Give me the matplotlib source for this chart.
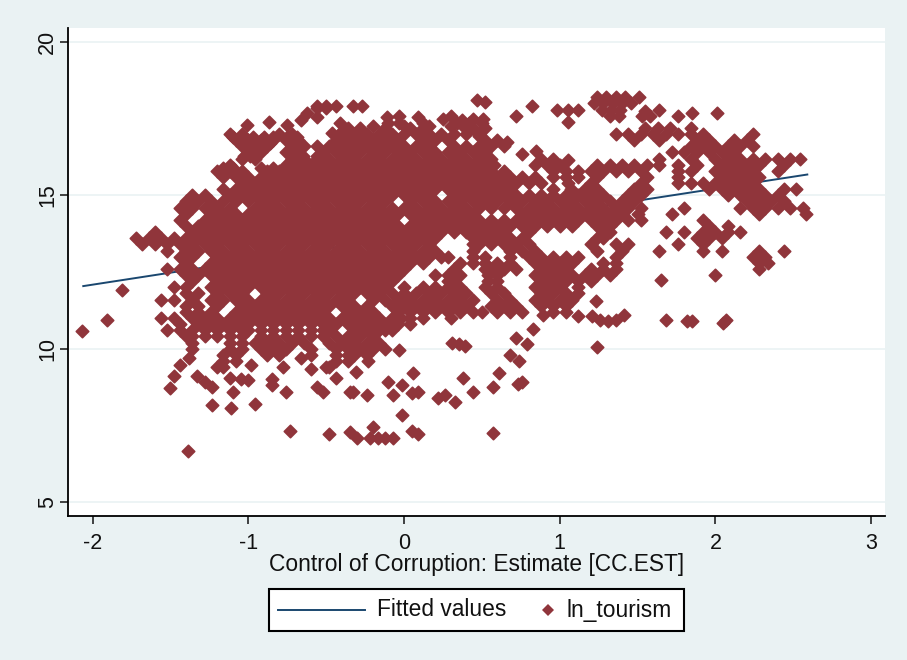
import matplotlib
matplotlib.use('Agg')
import matplotlib.pyplot as plt
from matplotlib.lines import Line2D
from matplotlib.patches import Rectangle

plt.rcParams['font.family'] = ['Liberation Sans', 'DejaVu Sans']
plt.rcParams['axes.unicode_minus'] = False

BG = '#eaf2f3'
MAROON = '#90353b'
NAVY = '#1a476f'

fit_x = [-2.06, 2.59]
fit_y = [12.04, 15.68]

# scattered points, read one by one
x_sparse = [0.47, 0.52, -0.56, -0.5, -0.44, -0.33, -0.27, 0.82, 0.98, 1.05, 1.12, -0.66, -0.56, -0.87, -1.01, -0.75,
            -0.41, -0.11, -0.03, 0.09, 0.25, 0.3, 0.44, 0.51, 0.37, 0.72, 1.05, 0.48, 0.66, 0.76, 0.85, 1.05,
            1.55, 1.64, 1.76, 1.85, 2.01,
            -1.81, -1.91, -2.07, -1.39, -0.73, -0.48, -0.35, -0.3,
            -1.5, -1.48, -1.44, -1.38, -1.33, -1.28, -1.23, -1.23, -1.11, -1.1, -0.96, -1.12, -1.05, -1.0,
            -1.2, -0.98, -0.85, -0.85, -0.78, -0.76, -0.66, -0.6, -0.56, -0.52, -0.35, -0.44, -0.31,
            1.23, 1.12, 1.21, 1.26, 1.31, 1.36, 1.41, 1.24, 0.89, 0.83, 0.72, 0.79, 0.68, 0.74, 0.61, 0.57, 0.73, 0.76,
            0.38, 0.44, 0.33, 0.26, 0.22, 0.57, 0.35, 0.31, 0.39, -0.03, 0.06, -0.23, -0.01, -0.1, -0.01, 0.09, 0.05,
            -0.07, -0.24, -0.33, -0.2, -0.22, -0.17, -0.12, -0.07, 0.05, 0.09,
            1.65, 2.0, 1.68, 1.82, 1.85, 2.07, 2.05,
            -1.1, -1.03, -0.97, -0.9, -0.84, -0.75, -0.69, -1.03, -0.97, -0.9, -0.86, -0.71, -1.03, -0.99, -0.69, -0.65,
            -0.56, -1.16, -1.1, -0.92, -0.84, -0.75, -0.62, -0.56, -0.5, -0.41, -0.46,
            -0.1, -0.03, 0.12, 0.34, 0.42, 0.5, -0.2, 0.0, 0.16, 0.3, 0.38]
y_sparse = [18.1, 18.05, 17.9, 17.9, 17.9, 17.9, 17.9, 17.9, 17.8, 17.8, 17.8, 17.45, 17.55, 17.4, 17.3, 17.3,
            17.35, 17.55, 17.6, 17.55, 17.5, 17.6, 17.5, 17.5, 17.45, 17.6, 17.4, 16.95, 16.75, 16.35, 16.45, 16.15,
            17.75, 17.8, 17.6, 17.7, 17.7,
            11.9, 10.93, 10.57, 6.65, 7.3, 7.2, 7.28, 7.1,
            8.7, 9.1, 9.45, 9.7, 9.1, 8.9, 8.75, 8.15, 8.05, 8.6, 8.2, 9.05, 9.0, 8.98,
            9.4, 9.45, 9.0, 8.8, 9.4, 8.6, 9.7, 9.35, 8.75, 8.6, 8.6, 9.05, 9.25,
            11.55, 11.05, 11.05, 10.95, 10.9, 10.95, 11.1, 10.05, 11.1, 10.65, 10.35, 10.15, 9.8, 9.6, 9.2, 8.75, 8.85, 8.9,
            9.05, 8.6, 8.25, 8.5, 8.4, 7.25, 10.15, 10.2, 10.1, 9.95, 9.2, 9.6, 7.85, 8.9, 8.8, 8.6, 8.55,
            8.5, 8.5, 8.6, 7.45, 7.1, 7.1, 7.1, 7.1, 7.3, 7.2,
            12.25, 12.4, 10.95, 10.9, 10.9, 10.95, 10.85,
            16.9, 16.9, 16.9, 16.9, 16.9, 16.9, 16.9, 16.7, 16.7, 16.7, 16.7, 16.7, 16.3, 16.3, 16.3, 16.3,
            16.3, 15.9, 15.9, 15.9, 15.9, 15.9, 17.7, 17.85, 17.85, 17.05, 17.05,
            17.35, 17.35, 17.35, 17.35, 17.35, 17.35, 17.25, 17.25, 17.25, 17.25, 17.25]

# dense body of the cloud, read band by band
y_bands = [18.2, 18.0, 17.8, 17.6, 17.2, 17.0, 16.8, 16.6, 16.4, 16.2, 16.0, 15.8, 15.6, 15.4, 15.2, 15.0, 14.8,
           14.6, 14.4, 14.2, 14.0, 13.8, 13.6, 13.4, 13.2, 13.0, 12.8, 12.6, 12.4, 12.2, 12.0, 11.8, 11.6, 11.4,
           11.2, 11.0, 10.8, 10.6, 10.4, 10.2, 10.0, 9.8, 9.6, 9.4]
x_182 = [1.24, 1.3, 1.36, 1.42, 1.51]
x_180 = [1.22, 1.28, 1.34, 1.4, 1.46]
x_178 = [1.27, 1.33, 1.39]
x_176 = [1.32, 1.38, 1.53, 1.58]
x_172 = [-0.36, -0.28, -0.12, 0.04, 0.12, 0.44, 0.52, 1.55, 1.63, 1.71, 1.84]
x_170 = [-1.12, -1.04, -0.8, -0.72, -0.4, -0.32, -0.24, -0.16, -0.08, 0, 0.08, 0.16, 0.24, 0.32, 0.4, 0.48,
         1.36, 1.44, 1.52, 1.6, 1.68, 1.76, 1.84, 1.92, 2.24]
x_168 = [-1.08, -1, -0.92, -0.84, -0.76, -0.68, -0.44, -0.36, -0.28, -0.2, -0.12, -0.04, 0.12, 0.2, 0.28, 0.52, 0.6,
         1.48, 1.64, 1.88, 1.96, 2.12, 2.2]
x_166 = [-1.04, -0.96, -0.88, -0.72, -0.64, -0.56, -0.48, -0.4, -0.32, -0.24, -0.16, -0.08, 0, 0.08, 0.16, 0.32,
         0.4, 0.48, 0.56, 0.64, 1.84, 1.92, 2, 2.08, 2.16, 2.24]
x_164 = [-1, -0.92, -0.76, -0.68, -0.52, -0.44, -0.36, -0.28, -0.2, -0.12, -0.04, 0.04, 0.12, 0.2, 0.28, 0.36, 0.44,
         0.52, 1.72, 1.8, 1.88, 1.96, 2.04, 2.12]
x_162 = [-1.04, -0.96, -0.72, -0.64, -0.56, -0.48, -0.4, -0.32, -0.24, -0.16, -0.08, 0, 0.08, 0.16, 0.24, 0.32, 0.4,
         0.48, 0.56, 0.88, 0.96, 1.64, 1.84, 2, 2.08, 2.16, 2.24, 2.32, 2.4, 2.48, 2.54]
x_160 = [-1.12, -0.76, -0.68, -0.6, -0.52, -0.44, -0.36, -0.28, -0.2, -0.12, -0.04, 0.04, 0.12, 0.2, 0.28, 0.36, 0.44,
         0.52, 0.58, 0.84, 0.92, 1, 1.24, 1.32, 1.4, 1.48, 1.56, 1.64, 1.76, 1.88, 2.04, 2.12, 2.2, 2.28, 2.44]
x_158 = [-1.2, -1.12, -1.04, -0.88, -0.8, -0.72, -0.64, -0.56, -0.48, -0.4, -0.32, -0.24, -0.16, -0.08, 0, 0.08, 0.16,
         0.24, 0.32, 0.4, 0.48, 0.56, 0.64, 0.96, 1.04, 1.12, 1.2, 1.28, 1.36, 1.44, 1.52, 1.76, 1.84, 2, 2.08, 2.16,
         2.24, 2.4]
x_156 = [-1.16, -1.08, -1, -0.92, -0.84, -0.76, -0.68, -0.6, -0.52, -0.44, -0.36, -0.28, -0.2, -0.12, -0.04, 0.04,
         0.12, 0.2, 0.28, 0.36, 0.44, 0.52, 0.6, 0.68, 0.76, 0.84, 0.96, 1.04, 1.12, 1.24, 1.56, 1.76, 2.04, 2.12, 2.2,
         2.28]
x_154 = [-1.04, -0.96, -0.88, -0.8, -0.72, -0.64, -0.56, -0.48, -0.4, -0.32, -0.24, -0.16, -0.08, 0, 0.08, 0.16, 0.24,
         0.32, 0.4, 0.48, 0.56, 0.64, 0.72, 0.8, 0.88, 1.05, 1.2, 1.52, 1.76, 1.84, 1.92, 2, 2.08, 2.16, 2.24]
x_152 = [-1.16, -1.08, -1, -0.92, -0.84, -0.76, -0.68, -0.6, -0.52, -0.44, -0.36, -0.28, -0.2, -0.12, -0.04, 0.04,
         0.12, 0.2, 0.28, 0.36, 0.44, 0.52, 0.6, 0.68, 0.96, 1.07, 1.16, 1.24, 1.48, 1.56, 1.96, 2.04, 2.12, 2.2, 2.28,
         2.44, 2.52]
x_150 = [-1.36, -1.28, -1.12, -1.04, -0.96, -0.88, -0.8, -0.72, -0.64, -0.56, -0.48, -0.4, -0.32, -0.24, -0.16, -0.08,
         0, 0.08, 0.16, 0.32, 0.4, 0.48, 0.56, 0.64, 0.72, 0.8, 0.88, 0.96, 1.04, 1.12, 1.2, 1.28, 1.44, 1.52, 2.08,
         2.16, 2.24, 2.32, 2.4]
x_148 = [-1.4, -1.32, -1.24, -1.16, -1.08, -1, -0.92, -0.84, -0.76, -0.68, -0.6, -0.52, -0.44, -0.36, -0.28, -0.2,
         -0.12, 0.04, 0.12, 0.2, 0.28, 0.36, 0.44, 0.52, 0.6, 0.68, 0.76, 0.84, 0.92, 1, 1.08, 1.16, 1.24, 1.32, 1.4,
         1.48, 2.2, 2.28, 2.36, 2.44]
x_146 = [-1.44, -1.36, -1.28, -1.2, -1.12, -0.96, -0.88, -0.8, -0.72, -0.64, -0.56, -0.48, -0.4, -0.32, -0.24, -0.16,
         -0.08, 0, 0.08, 0.16, 0.24, 0.32, 0.4, 0.48, 0.56, 0.64, 0.72, 0.8, 0.88, 0.96, 1.04, 1.12, 1.2, 1.28, 1.36,
         1.44, 1.52, 1.8, 2.16, 2.24, 2.32, 2.4, 2.48, 2.56]
x_144 = [-1.4, -1.24, -1.16, -1.08, -1, -0.92, -0.84, -0.76, -0.68, -0.6, -0.52, -0.44, -0.36, -0.28, -0.2, -0.12,
         -0.04, 0.04, 0.12, 0.2, 0.28, 0.36, 0.44, 0.76, 0.84, 0.92, 1, 1.08, 1.16, 1.24, 1.32, 1.4, 1.5, 1.72, 2.28,
         2.58]
x_142 = [-1.44, -1.28, -1.2, -1.12, -1.04, -0.96, -0.88, -0.8, -0.72, -0.64, -0.56, -0.48, -0.4, -0.32, -0.24, -0.16,
         -0.08, 0.08, 0.16, 0.24, 0.32, 0.4, 0.48, 0.56, 0.64, 0.72, 0.8, 0.88, 0.96, 1.04, 1.12, 1.2, 1.28, 1.36, 1.44,
         1.52, 1.92]
x_140 = [-1.4, -1.32, -1.24, -1.16, -1.08, -1, -0.92, -0.84, -0.76, -0.68, -0.6, -0.52, -0.44, -0.36, -0.28, -0.2,
         -0.12, -0.04, 0.04, 0.12, 0.2, 0.28, 0.36, 0.44, 0.52, 0.6, 0.68, 0.76, 0.84, 0.92, 1, 1.08, 1.24, 1.32, 1.96,
         2.08]
x_138 = [-1.6, -1.36, -1.28, -1.2, -1.12, -1.04, -0.96, -0.88, -0.8, -0.72, -0.64, -0.56, -0.48, -0.4, -0.32, -0.24,
         -0.16, -0.08, 0, 0.08, 0.16, 0.24, 0.32, 0.4, 0.48, 0.56, 0.64, 0.8, 1.28, 1.32, 1.68, 1.8, 1.92, 2, 2.08, 2.16]
x_136 = [-1.72, -1.64, -1.56, -1.48, -1.4, -1.32, -1.24, -1.16, -1.08, -1, -0.92, -0.84, -0.76, -0.68, -0.6, -0.52,
         -0.44, -0.36, -0.28, -0.2, -0.12, -0.04, 0.04, 0.12, 0.2, 0.44, 0.52, 0.6, 0.68, 0.76, 1.24, 1.28, 1.88, 1.96,
         2.04]
x_134 = [-1.68, -1.6, -1.52, -1.44, -1.36, -1.28, -1.2, -1.12, -1.04, -0.96, -0.88, -0.8, -0.72, -0.64, -0.56, -0.48,
         -0.4, -0.32, -0.24, -0.16, -0.08, 0, 0.08, 0.16, 0.44, 0.48, 0.56, 0.64, 0.72, 0.8, 1.2, 1.36,
         1.44, 1.76, 1.92]
x_132 = [-1.52, -1.4, -1.32, -1.24, -1.16, -1.08, -1, -0.92, -0.84, -0.76, -0.68, -0.6, -0.52, -0.44, -0.36, -0.28,
         -0.2, -0.12, -0.04, 0.04, 0.12, 0.2, 0.44, 0.68, 0.76, 0.84, 1.24, 1.4, 1.64, 1.92, 2.04, 2.28,
         2.44]
x_130 = [-1.44, -1.36, -1.2, -1.12, -1.04, -0.96, -0.88, -0.8, -0.72, -0.64, -0.56, -0.48, -0.4, -0.32, -0.24, -0.16,
         -0.08, 0, 0.08, 0.16, 0.24, 0.28, 0.44, 0.52, 0.68, 0.8, 0.88, 0.96, 1.04, 1.12, 1.36, 2.24, 2.32]
x_128 = [-1.4, -1.24, -1.16, -1.08, -1, -0.92, -0.84, -0.76, -0.68, -0.6, -0.52, -0.44, -0.36, -0.28, -0.2, -0.12,
         -0.04, 0.04, 0.12, 0.36, 0.44, 0.52, 0.6, 0.68, 0.84, 0.92, 1, 1.08, 1.28, 1.36, 2.28, 2.34]
x_126 = [-1.52, -1.44, -1.36, -1.28, -1.2, -1.12, -1.04, -0.96, -0.88, -0.8, -0.72, -0.64, -0.56, -0.48, -0.4, -0.32,
         -0.24, -0.16, -0.08, -0.04, 0, 0.32, 0.52, 0.56, 0.64, 0.72, 0.88, 0.96, 1.04, 1.2, 1.28, 1.36, 2.28]
x_124 = [-1.4, -1.32, -1.24, -1.16, -1.08, -1, -0.92, -0.84, -0.76, -0.68, -0.6, -0.52, -0.44, -0.36, -0.28, -0.2,
         -0.12, -0.04, 0.2, 0.28, 0.36, 0.54, 0.6, 0.84, 0.92, 1, 1.08, 1.16, 1.24, 1.32]
x_122 = [-1.36, -1.2, -1.12, -1.04, -0.96, -0.88, -0.8, -0.72, -0.64, -0.56, -0.48, -0.4, -0.32, -0.24, -0.16, -0.08,
         0.28, 0.32, 0.54, 0.6, 0.88, 0.96, 1.04, 1.12, 1.2]
x_120 = [-1.48, -1.4, -1.24, -1.16, -1.08, -1, -0.92, -0.84, -0.76, -0.68, -0.6, -0.52, -0.44, -0.36, -0.28, -0.2,
         -0.12, 0, 0.12, 0.2, 0.28, 0.36, 0.52, 0.6, 0.84, 0.92, 1, 1.12]
x_118 = [-1.4, -1.32, -1.2, -1.12, -1.04, -0.88, -0.8, -0.72, -0.64, -0.56, -0.48, -0.4, -0.32, -0.24, -0.16, -0.08,
         0, 0.08, 0.16, 0.24, 0.32, 0.4, 0.56, 0.64, 0.88, 0.96, 1.04, 1.12]
x_116 = [-1.56, -1.48, -1.36, -1.24, -1.16, -1.08, -1, -0.92, -0.84, -0.76, -0.68, -0.6, -0.52, -0.44, -0.36, -0.2,
         -0.12, -0.04, 0.04, 0.12, 0.2, 0.28, 0.36, 0.44, 0.6, 0.68, 0.84, 0.92, 1, 1.08]
x_114 = [-1.4, -1.32, -1.2, -1.04, -0.96, -0.88, -0.8, -0.72, -0.64, -0.56, -0.48, -0.4, -0.32, -0.24, -0.08, 0, 0.08,
         0.16, 0.24, 0.32, 0.4, 0.56, 0.64, 0.72, 0.88, 0.96, 1.04]
x_112 = [-1.4, -1.32, -1.24, -1.08, -1, -0.92, -0.84, -0.76, -0.68, -0.6, -0.52, -0.36, -0.28, -0.2, -0.04, 0.04, 0.12,
         0.2, 0.28, 0.36, 0.44, 0.5, 0.6, 0.68, 0.76, 0.96, 1.04]
x_110 = [-1.56, -1.48, -1.36, -1.28, -1.2, -1.12, -1.04, -0.96, -0.88, -0.8, -0.72, -0.64, -0.56, -0.48, -0.4, -0.32,
         -0.24, -0.16, -0.08, -0.02, 0.04, 0.12, 0.3]
x_108 = [-1.44, -1.32, -1.24, -1.16, -1.08, -1, -0.92, -0.84, -0.76, -0.68, -0.6, -0.52, -0.44, -0.36, -0.28, -0.2,
         -0.12, -0.04, 0.04]
x_106 = [-1.52, -1.44, -1.36, -1.28, -1.2, -1.12, -1.04, -1, -0.92, -0.84, -0.76, -0.68, -0.6, -0.52, -0.48, -0.32,
         -0.24, -0.16, -0.08, -0.12]
x_104 = [-1.4, -1.36, -1.28, -1.2, -1.12, -1.04, -0.92, -0.84, -0.76, -0.68, -0.6, -0.52, -0.44, -0.36, -0.28, -0.2]
x_102 = [-1.36, -1.12, -1.04, -0.96, -0.88, -0.8, -0.72, -0.64, -0.48, -0.4, -0.32, -0.24, -0.16]
x_100 = [-1.36, -1.12, -1.04, -0.92, -0.84, -0.76, -0.6, -0.44, -0.36, -0.28, -0.2, -0.12]
x_98 = [-1.16, -1.08, -0.88, -0.8, -0.6, -0.44, -0.36, -0.32, -0.24]
x_96 = [-1.16, -1.08, -0.44, -0.36]
x_94 = [-1.16, -0.5, -0.48]
x_bands = [x_182, x_180, x_178, x_176, x_172, x_170, x_168, x_166, x_164, x_162, x_160, x_158, x_156, x_154, x_152,
           x_150, x_148, x_146, x_144, x_142, x_140, x_138, x_136, x_134, x_132, x_130, x_128, x_126, x_124, x_122,
           x_120, x_118, x_116, x_114, x_112, x_110, x_108, x_106, x_104, x_102, x_100, x_98, x_96, x_94]

y_ticks = [5, 10, 15, 20]
x_ticks = [-2, -1, 0, 1, 2, 3]

x_all = list(x_sparse)
y_all = list(y_sparse)
for yb, xs in zip(y_bands, x_bands):
    x_all += xs
    y_all += [yb] * len(xs)

fig = plt.figure(figsize=(9.07, 6.6), dpi=100, facecolor=BG)
ax = fig.add_axes([68 / 907, 1 - 516 / 660, (885 - 68) / 907, (516 - 28) / 660])
ax.set_facecolor('white')
ax.set_xlim(-2.158, 3.089)
ax.set_ylim(4.54, 20.46)
ax.grid(axis='y', color=BG, lw=1.2)
ax.set_axisbelow(True)

ax.plot(fit_x, fit_y, color=NAVY, lw=1.4, zorder=2)
ax.scatter(x_all, y_all, marker='D', s=40, color=MAROON, linewidths=1.2, edgecolors=MAROON, joinstyle='round', zorder=3)

for side in ['top', 'right']:
    ax.spines[side].set_visible(False)
for side in ['left', 'bottom']:
    ax.spines[side].set_linewidth(1.3)
ax.set_xticks(x_ticks)
ax.set_yticks(y_ticks)
ax.tick_params(axis='both', length=6, width=1.1, labelsize=15.5, colors='#111111')
ax.tick_params(axis='x', pad=6)
ax.tick_params(axis='y', pad=1)
plt.setp(ax.get_yticklabels(), rotation=90, va='center')
fig.text(477 / 907, 1 - 564 / 660, 'Control of Corruption: Estimate [CC.EST]', fontsize=16.4, ha='center', va='center',
         color='#111111')


def figxy(px, py):
    return px / 907, 1 - py / 660


# legend box drawn by hand: the line key is far wider than the marker key
x0, y0 = figxy(269, 631)
x1, y1 = figxy(684, 589)
fig.add_artist(Rectangle((x0, y0), x1 - x0, y1 - y0, transform=fig.transFigure, fc='white', ec='black', lw=1.5))
lx0, ly = figxy(278, 610)
lx1, _ = figxy(365, 610)
fig.add_artist(Line2D([lx0, lx1], [ly, ly], transform=fig.transFigure, color=NAVY, lw=1.4))
mx, _ = figxy(548, 610)
fig.add_artist(Line2D([mx], [ly], transform=fig.transFigure, color=MAROON, marker='D', ls='none', ms=6.5, mew=0))
fig.text(figxy(377, 610)[0], ly, 'Fitted values', fontsize=16.4, ha='left', va='center', color='#111111')
fig.text(figxy(566, 610)[0], ly, 'ln_tourism', fontsize=16.4, ha='left', va='center', color='#111111')

fig.savefig('out.png', dpi=100, facecolor=BG)
